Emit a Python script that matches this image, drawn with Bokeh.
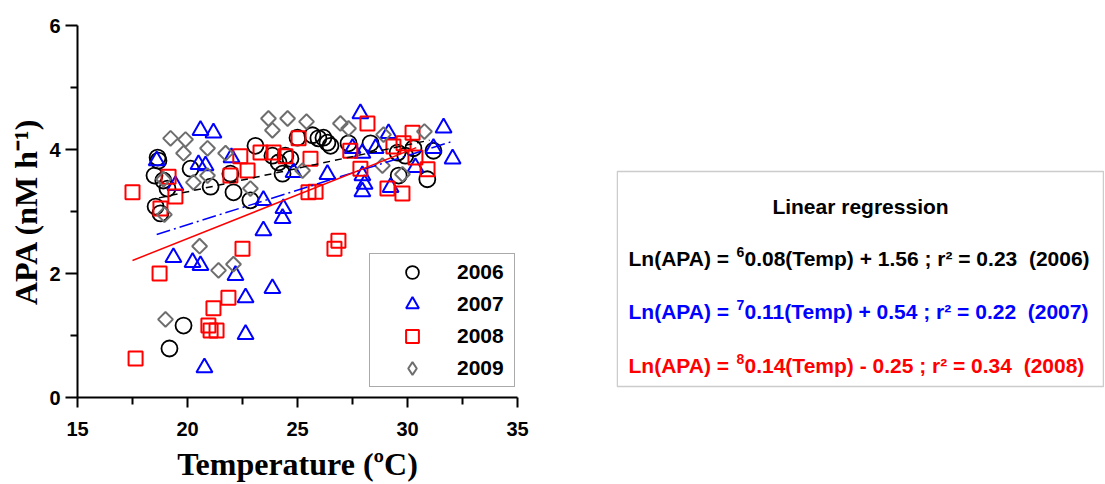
import numpy as np
from bokeh.plotting import figure
from bokeh.models import FixedTicker, Legend, LegendItem, Range1d, BoxAnnotation, ColumnDataSource
from bokeh.layouts import row
from bokeh.embed import file_html
from bokeh.resources import INLINE
from bokeh.core.properties import value

# ---------------- data ----------------
t2006 = [18.64, 18.68, 18.5, 18.9, 19.09, 18.55, 18.77, 20.14, 21.05, 21.95, 22.09, 22.86,
         23.09, 23.86, 24.14, 24.32, 24.45, 24.68, 25.0, 25.68, 25.95, 26.18, 26.36, 26.5,
         27.32, 28.32, 29.55, 29.9, 30.27, 29.6, 30.9, 31.18, 19.82, 19.18]
a2006 = [3.87, 3.82, 3.58, 3.5, 3.37, 3.08, 2.97, 3.69, 3.40, 3.61, 3.31, 3.18,
         4.06, 3.90, 3.79, 3.61, 3.90, 3.85, 4.19, 4.23, 4.18, 4.19, 4.11, 4.06,
         4.10, 4.10, 3.95, 3.90, 4.02, 3.58, 3.52, 3.98, 1.16, 0.79]

t2007 = [18.6, 19.45, 20.59, 21.18, 20.5, 20.82, 22.0, 23.45, 24.36, 24.32, 23.45, 19.36,
         20.23, 20.59, 22.18, 22.64, 23.86, 22.64, 20.77, 24.82, 26.36, 27.86, 29.14, 27.5,
         27.95, 28.55, 27.95, 28.05, 27.95, 29.23, 30.36, 31.18, 31.64, 32.05]
a2007 = [3.82, 3.42, 4.31, 4.27, 3.76, 3.74, 3.87, 3.18, 3.05, 2.89, 2.69, 2.26,
         2.18, 2.13, 1.97, 1.61, 1.76, 1.02, 0.48, 3.63, 3.60, 4.58, 4.26, 4.02,
         3.94, 4.02, 3.58, 3.44, 3.32, 3.39, 3.71, 4.02, 4.35, 3.85]

t2008 = [17.5, 19.14, 19.45, 18.77, 21.95, 22.4, 22.73, 23.32, 23.91, 24.45, 25.05, 25.59,
         25.5, 25.82, 28.18, 27.4, 27.86, 29.09, 29.77, 30.23, 29.82, 30.36, 30.91, 29.36,
         26.86, 26.68, 22.5, 18.73, 21.86, 21.18, 20.95, 21.05, 21.32, 17.64]
a2008 = [3.31, 3.56, 3.24, 3.05, 3.58, 3.89, 3.66, 3.95, 3.95, 3.89, 4.18, 3.85,
         3.31, 3.32, 4.42, 3.98, 3.69, 3.37, 3.29, 4.27, 4.10, 3.87, 3.68, 4.05,
         2.53, 2.40, 2.40, 2.0, 1.61, 1.44, 1.16, 1.08, 1.08, 0.63]

t2009 = [19.23, 19.91, 19.82, 20.91, 21.73, 18.91, 20.27, 20.91, 18.95, 22.86, 23.68, 23.86,
         24.55, 25.41, 26.95, 27.32, 25.23, 28.91, 28.86, 29.77, 30.77, 20.55, 21.41, 22.09, 19.0]
a2009 = [4.18, 4.16, 3.94, 4.02, 3.94, 3.52, 3.47, 3.58, 2.95, 3.37, 4.5, 4.31,
         4.5, 4.45, 4.42, 4.34, 3.66, 4.24, 3.74, 3.6, 4.29, 2.44, 2.05, 2.15, 1.26]

fit_t2006 = [18.7, 31.0]
fit_a2006 = [3.22, 4.15]
fit_t2007 = [18.6, 31.95]
fit_a2007 = [2.63, 4.12]
fit_t2008 = [17.5, 30.4]
fit_a2008 = [2.21, 4.03]

x_ticks = [15, 20, 25, 30, 35]
x_minor = [17.5, 22.5, 27.5, 32.5]
y_ticks = [0, 2, 4, 6]
y_minor = [1, 3, 5]

years = ["2006", "2007", "2008", "2009"]
title_text = "Linear regression"
NB = "\u00a0\u00a0"
eq_prefix = ["Ln(APA) =", "Ln(APA) =", "Ln(APA) ="]
eq_sup = ["6", "7", "8"]
eq_rest = [
    "0.08(Temp) + 1.56 ; r\u00b2 = 0.23" + NB + "(2006)",
    "0.11(Temp) + 0.54 ; r\u00b2 = 0.22" + NB + "(2007)",
    "0.14(Temp) - 0.25 ; r\u00b2 = 0.34" + NB + "(2008)",
]
eq_colors = ["#000000", "#0000ff", "#ff0000"]

SANS = "Liberation Sans, Arial, sans-serif"
SERIF = "Liberation Serif, Times New Roman, serif"

# ---------------- main scatter plot ----------------
p = figure(width=568, height=484, output_backend="svg", toolbar_location=None,
           x_range=Range1d(15, 35), y_range=Range1d(0, 6),
           min_border_left=77, min_border_right=51, min_border_top=25, min_border_bottom=87)
p.outline_line_color = None
p.grid.visible = False
p.background_fill_color = "white"
p.border_fill_color = "white"

src09 = ColumnDataSource(dict(x=t2009, y=a2009, ang=[np.pi / 4] * len(t2009)))

r06 = p.scatter(t2006, a2006, marker="circle", size=16, fill_color=None,
                line_color="black", line_width=1.8)
r07 = p.scatter(t2007, a2007, marker="triangle", size=16, fill_color=None,
                line_color="#0000ff", line_width=2)
r08 = p.scatter(t2008, a2008, marker="square", size=14, fill_color=None,
                line_color="#ff0000", line_width=2)
r09 = p.scatter("x", "y", source=src09, marker="square", angle="ang", size=10.5,
                fill_color=None, line_color="#6e6e6e", line_width=2)
# legend stand-in for the 2009 diamonds (not drawn on the plot)
r09_key = p.scatter("x", "y", source=src09, marker="diamond", size=10.5,
                    fill_color=None, line_color="#6e6e6e", line_width=2, visible=False)

p.line(fit_t2006, fit_a2006, line_color="black", line_width=1.5, line_dash="7 5")
p.line(fit_t2007, fit_a2007, line_color="#0000ff", line_width=1.5, line_dash="14 4 2 4")
p.line(fit_t2008, fit_a2008, line_color="#ff0000", line_width=1.5)

p.xaxis.ticker = FixedTicker(ticks=x_ticks, minor_ticks=x_minor)
p.yaxis.ticker = FixedTicker(ticks=y_ticks, minor_ticks=y_minor)
p.xaxis.axis_label = "Temperature (\u00baC)"
p.yaxis.axis_label = "APA (nM h\u207b\u00b9)"

for ax in (p.xaxis[0], p.yaxis[0]):
    ax.axis_line_width = 2
    ax.axis_line_color = "black"
    ax.major_tick_line_width = 2
    ax.minor_tick_line_width = 2
    ax.major_tick_in = 0
    ax.minor_tick_in = 0
    ax.minor_tick_out = 7
    ax.major_label_text_font = SANS
    ax.major_label_text_font_style = "bold"
    ax.major_label_text_font_size = "20px"
    ax.major_label_text_color = "black"
    ax.axis_label_text_font = SERIF
    ax.axis_label_text_font_style = "bold"
    ax.axis_label_text_font_size = "32px"
    ax.axis_label_text_color = "black"

p.xaxis.major_tick_out = 10
p.xaxis.major_label_standoff = 14
p.xaxis.axis_label_standoff = 7
p.yaxis.major_tick_out = 12
p.yaxis.major_label_standoff = 5
p.yaxis.axis_label_standoff = 2

legend = Legend(items=[LegendItem(label=years[0], renderers=[r06]),
                       LegendItem(label=years[1], renderers=[r07]),
                       LegendItem(label=years[2], renderers=[r08]),
                       LegendItem(label=years[3], renderers=[r09_key])],
                location=(292, 10), orientation="vertical", click_policy="none",
                glyph_width=80, glyph_height=32, label_standoff=5, label_width=55,
                label_height=20, padding=2, spacing=0, margin=0,
                border_line_color="#555555", border_line_width=1,
                background_fill_color="white", background_fill_alpha=1,
                label_text_font=SANS, label_text_font_style="bold",
                label_text_font_size="21px", label_text_color="black")
p.add_layout(legend)

# ---------------- equation box ----------------
p2 = figure(width=536, height=484, output_backend="svg", toolbar_location=None,
            x_range=Range1d(0, 488), y_range=Range1d(0, 372),
            x_axis_type=None, y_axis_type=None,
            min_border_left=48, min_border_right=0, min_border_top=25, min_border_bottom=87)
p2.grid.visible = False
p2.outline_line_color = None
p2.background_fill_color = "white"
p2.border_fill_color = "white"

p2.add_layout(BoxAnnotation(left=0.75, right=487, bottom=11, top=226,
                            fill_alpha=0, line_color="#555555", line_width=1.5))

p2.text(x=[244], y=[191], text=[title_text], text_align="center", text_baseline="middle",
        text_font=value(SANS), text_font_style="bold", text_font_size="21px",
        text_color="black")

eq_base = [139.5, 86.5, 32.5]
eq_sup_base = [b + 6.5 for b in eq_base]
x_pre, x_sup, x_rest = 12, 12 + 108, 12 + 108 + 8
common = dict(text_align="left", text_baseline="alphabetic", text_font=value(SANS),
              text_font_style="bold", text_color=eq_colors)
p2.text(x=[x_pre] * 3, y=eq_base, text=eq_prefix, text_font_size="21px", **common)
p2.text(x=[x_sup] * 3, y=eq_sup_base, text=eq_sup, text_font_size="14px", **common)
p2.text(x=[x_rest] * 3, y=eq_base, text=eq_rest, text_font_size="21px", **common)

layout = row(p, p2, spacing=0)
open("out.html", "w").write(file_html(layout, INLINE))
